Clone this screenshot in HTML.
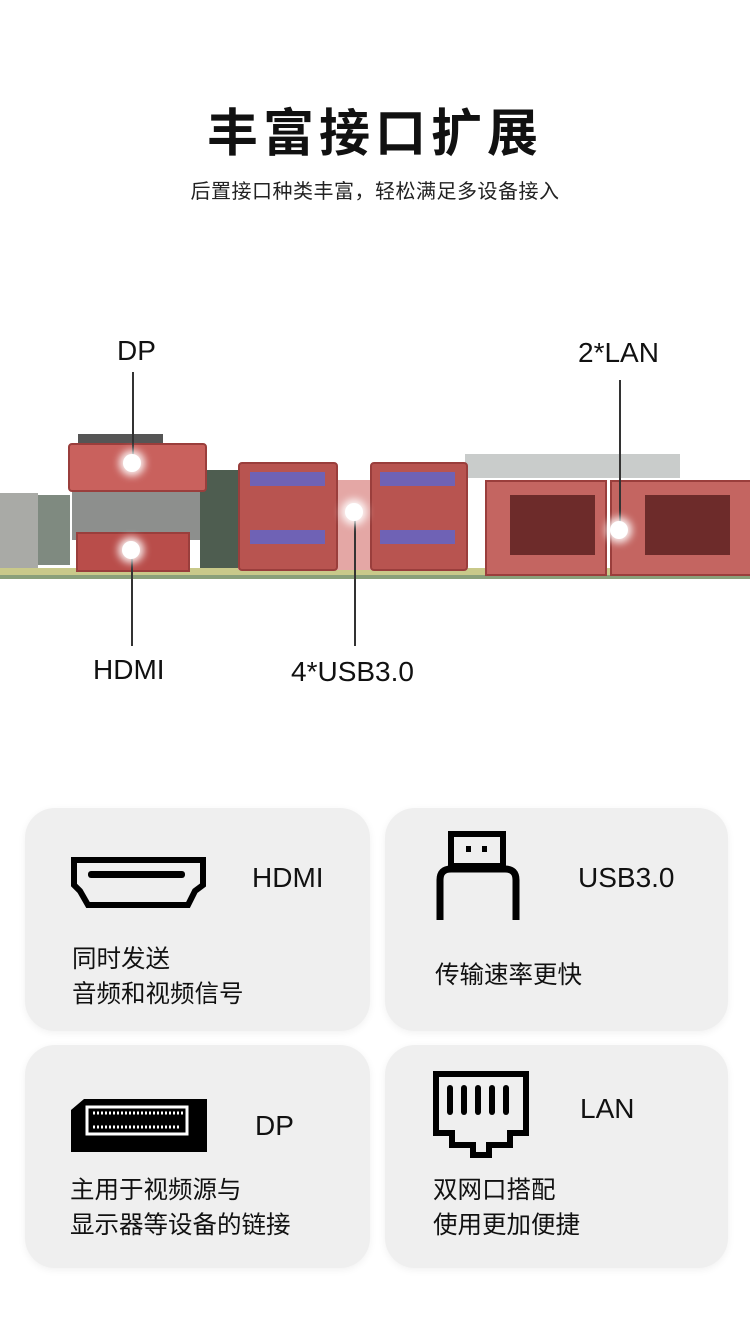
<!DOCTYPE html>
<html><head><meta charset="utf-8"><style>
body{margin:0;width:750px;height:1325px;background:#fff;position:relative;overflow:hidden;font-family:"Liberation Sans","Noto Sans CJK SC",sans-serif;color:#111}
.a{position:absolute}
.t{font-weight:bold;font-size:51px;left:0;width:750px;text-align:center;top:92px;letter-spacing:5px}
.s{font-size:20px;left:0;width:750px;text-align:center;top:175px;color:#222;letter-spacing:0.5px}
.lab{font-size:28px;color:#111}
.line{background:#333;width:1.5px}
.dot{width:18px;height:18px;border-radius:50%;background:#fff;box-shadow:0 0 8px 4px rgba(255,255,255,.9)}
.red{background:#c96a66;border:2px solid #9a3e3c}
.card{background:#efefef;border-radius:30px;box-shadow:0 2px 8px rgba(0,0,0,.06)}
.ct{font-size:28px}
.cd{font-size:24.5px;line-height:35px}
</style></head><body>
<div class="a t">丰富接口扩展</div>
<div class="a s">后置接口种类丰富，轻松满足多设备接入</div>

<div class="a" style="left:465px;top:454px;width:215px;height:24px;background:#c9cccb"></div>
<div class="a" style="left:0;top:568px;width:750px;height:10px;background:#c9c98a"></div>
<div class="a" style="left:0;top:575px;width:750px;height:4px;background:#8aa07a"></div>
<div class="a" style="left:0;top:493px;width:38px;height:75px;background:#a9aaa6"></div>
<div class="a" style="left:38px;top:495px;width:32px;height:70px;background:#7f8a80"></div>
<div class="a" style="left:78px;top:434px;width:85px;height:14px;background:#555"></div>
<div class="a" style="left:72px;top:480px;width:128px;height:60px;background:#8d8f8d"></div>
<div class="a" style="left:200px;top:470px;width:38px;height:98px;background:#4e5d50"></div>
<div class="a red" style="left:68px;top:443px;width:135px;height:45px;border-radius:4px;background:#c9615d"></div>
<div class="a red" style="left:76px;top:532px;width:110px;height:36px;background:#b94d4a"></div>
<div class="a" style="left:238px;top:480px;width:228px;height:90px;background:#e4a7a5"></div>
<div class="a red" style="left:238px;top:462px;width:96px;height:105px;border-radius:4px;background:#b85450"></div>
<div class="a red" style="left:370px;top:462px;width:94px;height:105px;border-radius:4px;background:#b85450"></div>
<div class="a" style="left:250px;top:472px;width:75px;height:14px;background:#6f62b5"></div>
<div class="a" style="left:380px;top:472px;width:75px;height:14px;background:#6f62b5"></div>
<div class="a" style="left:250px;top:530px;width:75px;height:14px;background:#6f62b5"></div>
<div class="a" style="left:380px;top:530px;width:75px;height:14px;background:#6f62b5"></div>
<div class="a red" style="left:485px;top:480px;width:118px;height:92px;background:#c46561"></div>
<div class="a" style="left:510px;top:495px;width:85px;height:60px;background:#6d2b2a"></div>
<div class="a red" style="left:610px;top:480px;width:140px;height:92px;background:#c46561"></div>
<div class="a" style="left:645px;top:495px;width:85px;height:60px;background:#6d2b2a"></div>

<div class="a line" style="left:132px;top:372px;height:90px"></div>
<div class="a line" style="left:131px;top:550px;height:96px"></div>
<div class="a line" style="left:354px;top:512px;height:134px"></div>
<div class="a line" style="left:619px;top:380px;height:150px"></div>
<div class="a dot" style="left:123px;top:454px"></div>
<div class="a dot" style="left:122px;top:541px"></div>
<div class="a dot" style="left:345px;top:503px"></div>
<div class="a dot" style="left:610px;top:521px"></div>
<div class="a lab" style="left:117px;top:335px">DP</div>
<div class="a lab" style="left:578px;top:337px">2*LAN</div>
<div class="a lab" style="left:93px;top:654px">HDMI</div>
<div class="a lab" style="left:291px;top:656px">4*USB3.0</div>

<div class="a card" style="left:25px;top:808px;width:345px;height:223px"></div>
<div class="a card" style="left:385px;top:808px;width:343px;height:223px"></div>
<div class="a card" style="left:25px;top:1045px;width:345px;height:223px"></div>
<div class="a card" style="left:385px;top:1045px;width:343px;height:223px"></div>

<svg class="a" style="left:0;top:0" width="750" height="1325">
<path d="M74 860 H203 V885 L195 891 L188 905 H88 L80 891 L74 885 Z" fill="none" stroke="#000" stroke-width="6"/>
<rect x="88" y="871" width="97" height="7" rx="3" fill="#000"/>
<rect x="451" y="834" width="52" height="32" fill="none" stroke="#000" stroke-width="6"/>
<rect x="466" y="846" width="5" height="6" fill="#000"/><rect x="482" y="846" width="5" height="6" fill="#000"/>
<path d="M440 920 V880 Q440 869 451 869 H505 Q516 869 516 880 V920" fill="none" stroke="#000" stroke-width="7"/>
<path d="M71 1110 L84 1099 H207 V1152 H71 Z" fill="#000"/>
<rect x="87" y="1107" width="100" height="27" fill="none" stroke="#fff" stroke-width="3"/>
<path d="M93 1113 H185 M93 1127 H180" stroke="#fff" stroke-width="3" stroke-dasharray="2 2"/>
<path d="M436 1074 H526 V1133 H510 V1145 H489 V1155 H473 V1145 H452 V1133 H436 Z" fill="none" stroke="#000" stroke-width="6"/>
<g fill="#000"><rect x="447" y="1085" width="6" height="30" rx="3"/><rect x="461" y="1085" width="6" height="30" rx="3"/><rect x="475" y="1085" width="6" height="30" rx="3"/><rect x="489" y="1085" width="6" height="30" rx="3"/><rect x="503" y="1085" width="6" height="30" rx="3"/></g>
</svg>
<div class="a ct" style="left:252px;top:862px">HDMI</div>
<div class="a ct" style="left:578px;top:862px">USB3.0</div>
<div class="a ct" style="left:255px;top:1110px">DP</div>
<div class="a ct" style="left:580px;top:1093px">LAN</div>
<div class="a cd" style="left:72px;top:942px">同时发送<br>音频和视频信号</div>
<div class="a cd" style="left:435px;top:958px">传输速率更快</div>
<div class="a cd" style="left:70px;top:1173px">主用于视频源与<br>显示器等设备的链接</div>
<div class="a cd" style="left:433px;top:1173px">双网口搭配<br>使用更加便捷</div>
</body></html>
